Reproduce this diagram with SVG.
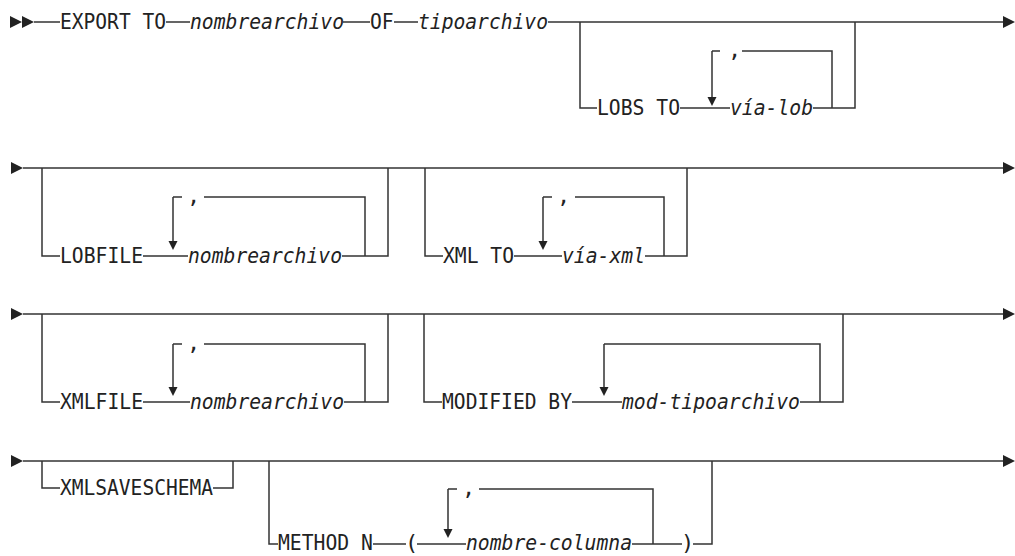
<svg xmlns="http://www.w3.org/2000/svg" xmlns:xlink="http://www.w3.org/1999/xlink" width="1015" height="556" viewBox="0 0 1015 556">
<style>
  .ln { fill: none; stroke: #333; stroke-width: 1.5; }
  .ah { fill: #222; stroke: none; }
  text { font-family: "DejaVu Sans Mono", "Liberation Mono", monospace; font-size: 22px; fill: #222; }
  .kw { font-style: normal; }
  .var { font-style: italic; }
</style>
<defs>
  <polygon id="ah-right" class="ah" points="0,-6 0,6 12,0"/>
  <polygon id="ah-down" class="ah" points="-4.5,-9 4.5,-9 0,0"/>
</defs>
<rect width="1015" height="556" fill="#fff"/>

<g id="connectors">
  <!-- Row 1 -->
  <use xlink:href="#ah-right" x="10" y="22"/>
  <use xlink:href="#ah-right" x="22" y="22"/>
  <path class="ln" d="M34,22H60 M166,22H190 M343,22H370 M394,22H418 M548,22H1003"/>
  <use xlink:href="#ah-right" x="1003" y="22"/>
  <path class="ln" d="M580,22V108H597 M680,108H730 M813,108H855V22"/>
  <path class="ln" d="M712,51V99 M712,51H720 M742,51H832V108"/>
  <use xlink:href="#ah-down" x="712" y="106"/>

  <!-- Row 2 -->
  <use xlink:href="#ah-right" x="11" y="168"/>
  <path class="ln" d="M23,168H1003"/>
  <use xlink:href="#ah-right" x="1003" y="168"/>
  <path class="ln" d="M42,168V256H60 M143,256H188 M342,256H388V168"/>
  <path class="ln" d="M173,197V243 M173,197H182 M204,197H365V256"/>
  <use xlink:href="#ah-down" x="173" y="250"/>
  <path class="ln" d="M425,168V256H443 M514,256H562 M645,256H687V168"/>
  <path class="ln" d="M543,197V243 M543,197H552 M575,197H664V256"/>
  <use xlink:href="#ah-down" x="543" y="250"/>

  <!-- Row 3 -->
  <use xlink:href="#ah-right" x="11" y="314"/>
  <path class="ln" d="M23,314H1003"/>
  <use xlink:href="#ah-right" x="1003" y="314"/>
  <path class="ln" d="M42,314V402H60 M143,402H190 M344,402H388V314"/>
  <path class="ln" d="M173,344V389 M173,344H182 M204,344H365V402"/>
  <use xlink:href="#ah-down" x="173" y="396"/>
  <path class="ln" d="M424,314V402H442 M572,402H622 M800,402H843V314"/>
  <path class="ln" d="M604,344V389 M604,344H820V402"/>
  <use xlink:href="#ah-down" x="604" y="396"/>

  <!-- Row 4 -->
  <use xlink:href="#ah-right" x="11" y="461"/>
  <path class="ln" d="M23,461H1003"/>
  <use xlink:href="#ah-right" x="1003" y="461"/>
  <path class="ln" d="M42,461V488H60 M213,488H233V461"/>
  <path class="ln" d="M269,461V544H278 M373,544H406 M417,544H466 M632,544H682 M693,544H712V461"/>
  <path class="ln" d="M448,489V531 M448,489H457 M479,489H653V544"/>
  <use xlink:href="#ah-down" x="448" y="538"/>
</g>

<g id="n-export"><text class="kw" x="60" y="29" textLength="106" lengthAdjust="spacingAndGlyphs">EXPORT TO</text></g>
<g id="n-nombrearchivo1"><text class="var" x="190" y="29" textLength="154" lengthAdjust="spacingAndGlyphs">nombrearchivo</text></g>
<g id="n-of"><text class="kw" x="370" y="29" textLength="23.7" lengthAdjust="spacingAndGlyphs">OF</text></g>
<g id="n-tipoarchivo"><text class="var" x="418" y="29" textLength="130" lengthAdjust="spacingAndGlyphs">tipoarchivo</text></g>
<g id="n-lobsto"><text class="kw" x="597" y="115" textLength="83" lengthAdjust="spacingAndGlyphs">LOBS TO</text></g>
<g id="n-vialob"><text class="var" x="730" y="115" textLength="83" lengthAdjust="spacingAndGlyphs">vía-lob</text><text x="728" y="57">,</text></g>

<g id="n-lobfile"><text class="kw" x="60" y="263" textLength="83" lengthAdjust="spacingAndGlyphs">LOBFILE</text></g>
<g id="n-nombrearchivo2"><text class="var" x="188" y="263" textLength="154" lengthAdjust="spacingAndGlyphs">nombrearchivo</text><text x="187" y="203">,</text></g>
<g id="n-xmlto"><text class="kw" x="443" y="263" textLength="71" lengthAdjust="spacingAndGlyphs">XML TO</text></g>
<g id="n-viaxml"><text class="var" x="562" y="263" textLength="83" lengthAdjust="spacingAndGlyphs">vía-xml</text><text x="557" y="203">,</text></g>

<g id="n-xmlfile"><text class="kw" x="60" y="409" textLength="83" lengthAdjust="spacingAndGlyphs">XMLFILE</text></g>
<g id="n-nombrearchivo3"><text class="var" x="190" y="409" textLength="154" lengthAdjust="spacingAndGlyphs">nombrearchivo</text><text x="187" y="350">,</text></g>
<g id="n-modifiedby"><text class="kw" x="442" y="409" textLength="130" lengthAdjust="spacingAndGlyphs">MODIFIED BY</text></g>
<g id="n-modtipoarchivo"><text class="var" x="622" y="409" textLength="178" lengthAdjust="spacingAndGlyphs">mod-tipoarchivo</text></g>

<g id="n-xmlsaveschema"><text class="kw" x="60" y="495" textLength="153" lengthAdjust="spacingAndGlyphs">XMLSAVESCHEMA</text></g>
<g id="n-methodn"><text class="kw" x="278" y="550" textLength="95" lengthAdjust="spacingAndGlyphs">METHOD N</text></g>
<g id="n-lparen"><text class="kw" x="405" y="550">(</text></g>
<g id="n-nombrecolumna"><text class="var" x="466" y="550" textLength="166" lengthAdjust="spacingAndGlyphs">nombre-columna</text><text x="462" y="495">,</text></g>
<g id="n-rparen"><text class="kw" x="681" y="550">)</text></g>
</svg>
